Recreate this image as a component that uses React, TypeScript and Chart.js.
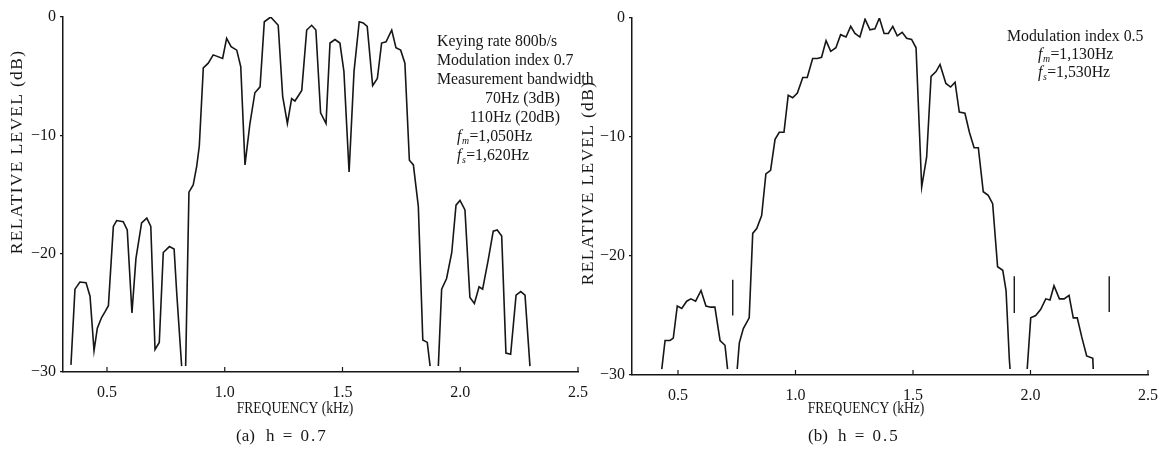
import React, { useEffect, useRef } from "react";
import { Chart, registerables } from "chart.js";

Chart.register(...registerables);

const FONT = '"Liberation Serif", "DejaVu Serif", serif';
const INK = "#161616";

// ---------- (a) h = 0.7 ----------
const freqA = [
  0.347, 0.364, 0.385, 0.411, 0.428, 0.445, 0.459, 0.477, 0.492, 0.506,
  0.527, 0.541, 0.569, 0.586, 0.606, 0.623, 0.647, 0.669, 0.686, 0.704,
  0.722, 0.739, 0.765, 0.785, 0.796, 0.817, 0.825, 0.834, 0.848, 0.866,
  0.881, 0.892, 0.909, 0.93, 0.951, 0.991, 1.008, 1.027, 1.051, 1.068,
  1.086, 1.107, 1.128, 1.15, 1.168, 1.195, 1.227, 1.246, 1.266, 1.284,
  1.298, 1.327, 1.348, 1.369, 1.387, 1.407, 1.43, 1.447, 1.468, 1.489,
  1.506, 1.528, 1.549, 1.571, 1.588, 1.605, 1.628, 1.648, 1.666, 1.685,
  1.709, 1.727, 1.747, 1.765, 1.784, 1.801, 1.822, 1.841, 1.86, 1.872,
  1.89, 1.907, 1.921, 1.942, 1.964, 1.982, 1.999, 2.02, 2.041, 2.06,
  2.08, 2.095, 2.119, 2.14, 2.157, 2.176, 2.194, 2.214, 2.237, 2.257,
  2.275, 2.296,
];
const levelA = [
  -29.4, -23.0, -22.4, -22.45, -23.6, -28.2, -26.3, -25.4, -24.9, -24.4,
  -17.7, -17.2, -17.3, -18.0, -25.0, -20.4, -17.4, -17.0, -17.7, -28.1,
  -27.5, -19.9, -19.4, -19.6, -23.3, -29.5, null, -29.5, -14.8, -14.2,
  -12.6, -10.9, -4.3, -3.9, -3.2, -3.5, -1.8, -2.5, -2.8, -4.2,
  -12.5, -9.0, -6.4, -5.9, -0.4, 0.0, -0.7, -6.7, -9.0, -6.9,
  -7.1, -6.2, -1.1, -0.7, -1.1, -8.1, -9.0, -2.2, -1.9, -2.2,
  -4.6, -13.1, -4.6, -0.4, -0.5, -0.8, -5.8, -5.2, -2.2, -2.1,
  -1.1, -2.6, -2.8, -3.9, -12.1, -12.5, -16.0, -27.3, -27.5, -29.5,
  null, -29.5, -23.0, -22.1, -19.9, -15.9, -15.5, -16.3, -23.7, -24.2,
  -22.8, -23.0, -20.5, -18.1, -18.0, -18.5, -28.4, -28.5, -23.5, -23.2,
  -23.5, -29.5,
];

// ---------- (b) h = 0.5 ----------
const freqB = [
  0.431, 0.445, 0.466, 0.48, 0.497, 0.516, 0.537, 0.555, 0.575, 0.598,
  0.619, 0.639, 0.657, 0.679, 0.7, 0.711, 0.73, 0.752, 0.761, 0.778,
  0.803, 0.818, 0.835, 0.856, 0.874, 0.894, 0.913, 0.931, 0.951, 0.969,
  0.988, 1.008, 1.031, 1.05, 1.073, 1.093, 1.111, 1.13, 1.15, 1.172,
  1.192, 1.215, 1.235, 1.253, 1.274, 1.296, 1.317, 1.338, 1.357, 1.377,
  1.395, 1.414, 1.433, 1.454, 1.473, 1.494, 1.513, 1.537, 1.558, 1.577,
  1.598, 1.615, 1.64, 1.66, 1.679, 1.697, 1.721, 1.74, 1.76, 1.778,
  1.799, 1.82, 1.839, 1.86, 1.882, 1.896, 1.91, 1.913, 1.95, 1.986,
  2.001, 2.022, 2.043, 2.065, 2.083, 2.1, 2.123, 2.143, 2.164, 2.182,
  2.199, 2.218, 2.239, 2.265, 2.267,
];
const levelB = [
  -29.5, -27.1, -27.1, -26.9, -24.2, -24.4, -23.8, -23.6, -23.8, -22.9,
  -24.2, -24.3, -24.3, -27.1, -27.5, -29.5, null, -29.5, -27.3, -26.1,
  -25.2, -18.1, -17.7, -16.6, -13.1, -12.8, -10.2, -9.6, -9.6, -6.5,
  -6.7, -6.3, -5.0, -5.0, -3.4, -3.4, -3.3, -1.9, -2.8, -2.5,
  -1.4, -1.6, -0.7, -1.3, -1.6, -0.1, -1.0, -0.9, 0.0, -1.3,
  -1.3, -0.7, -1.5, -1.2, -1.7, -1.8, -2.5, -14.2, -11.7, -4.9,
  -4.5, -3.9, -5.5, -5.8, -5.4, -7.9, -8.0, -9.6, -10.9, -10.9,
  -14.6, -14.9, -15.6, -20.9, -21.2, -22.9, -28.7, -29.5, null, -29.5,
  -25.2, -25.0, -24.5, -23.6, -23.7, -22.5, -23.6, -23.6, -23.3, -25.2,
  -25.2, -26.8, -28.4, -28.6, -29.5,
];
const markerFreqsB = [0.733, 1.931, 2.335];
const markerTopB = [-22.0, -21.7, -21.7];
const markerBottomB = [-25.0, -24.8, -24.7];

// ---------- axes ----------
const xTicks = [0.5, 1.0, 1.5, 2.0, 2.5];
const xTickLabels = ["0.5", "1.0", "1.5", "2.0", "2.5"];
const yTicks = [0, -10, -20, -30];
const yTickLabels = ["0", "\u221210", "\u221220", "\u221230"];

// ---------- texts ----------
const yTitle = "RELATIVE LEVEL (dB)";
const xTitle = "FREQUENCY (kHz)";
const captionA = ["(a)", "h = 0.7"];
const captionB = ["(b)", "h = 0.5"];
const notesA = ["Keying rate 800b/s", "Modulation index 0.7", "Measurement bandwidth"];
const bandwidthA = ["70Hz (3dB)", "110Hz (20dB)"];
const fmA = "=1,050Hz";
const fsA = "=1,620Hz";
const notesB = ["Modulation index 0.5"];
const fmB = "=1,130Hz";
const fsB = "=1,530Hz";

function pts(fx: number[], ly: (number | null)[]) {
  return fx.map((x, i) => ({ x, y: ly[i] }));
}

function markerPts(fx: number[], top: number[], bottom: number[]) {
  const out: { x: number; y: number | null }[] = [];
  fx.forEach((x, i) => {
    out.push({ x, y: top[i] }, { x, y: bottom[i] }, { x, y: null });
  });
  return out;
}

function setText(ctx: CanvasRenderingContext2D, size: number, italic = false) {
  ctx.font = `${italic ? "italic " : ""}${size}px ${FONT}`;
}

function drawFreqLine(
  ctx: CanvasRenderingContext2D,
  sub: string,
  rest: string,
  x: number,
  y: number,
  size: number
) {
  ctx.textAlign = "left";
  ctx.textBaseline = "middle";
  setText(ctx, size, true);
  ctx.fillText("f", x, y);
  let cx = x + ctx.measureText("f").width + 0.5;
  setText(ctx, size * 0.62, true);
  ctx.fillText(sub, cx, y + size * 0.25);
  cx += ctx.measureText(sub).width + 0.5;
  setText(ctx, size);
  ctx.fillText(rest, cx, y);
}

function drawYTitle(ctx: CanvasRenderingContext2D, cx: number, cy: number) {
  ctx.save();
  ctx.translate(cx, cy);
  ctx.rotate(-Math.PI / 2);
  setText(ctx, 17.5);
  (ctx as any).letterSpacing = "1.3px";
  ctx.textAlign = "center";
  ctx.textBaseline = "middle";
  ctx.fillText(yTitle, 0, 0);
  ctx.restore();
}

function drawXTitle(ctx: CanvasRenderingContext2D, cx: number, cy: number) {
  ctx.save();
  ctx.translate(cx, cy);
  ctx.scale(0.8, 1);
  setText(ctx, 17);
  ctx.textAlign = "center";
  ctx.textBaseline = "middle";
  ctx.fillText(xTitle, 0, 0);
  ctx.restore();
}

function drawCaption(ctx: CanvasRenderingContext2D, parts: string[], x: number, x2: number, y: number) {
  ctx.save();
  setText(ctx, 17);
  ctx.textAlign = "left";
  ctx.textBaseline = "middle";
  ctx.fillText(parts[0], x, y);
  (ctx as any).letterSpacing = "2px";
  ctx.fillText(parts[1], x2, y);
  ctx.restore();
}

interface PanelCfg {
  left: number;
  width: number;
  height: number;
  plotLeft: number;
  plotRight: number;
  plotTop: number;
  plotBottom: number;
  xMin: number;
  xMax: number;
  datasets: any[];
  draw: (ctx: CanvasRenderingContext2D) => void;
}

const panelA: PanelCfg = {
  left: 0,
  width: 600,
  height: 454,
  plotLeft: 63,
  plotRight: 578,
  plotTop: 17,
  plotBottom: 372,
  xMin: 0.3132,
  xMax: 2.5,
  datasets: [
    { data: pts(freqA, levelA), borderColor: INK, borderWidth: 1.6, pointRadius: 0, spanGaps: false, tension: 0 },
  ],
  draw: (ctx) => {
    ctx.fillStyle = INK;
    drawYTitle(ctx, 17, 152);
    drawXTitle(ctx, 295, 409);
    drawCaption(ctx, captionA, 236, 266, 437);
    setText(ctx, 15.8);
    ctx.textAlign = "left";
    ctx.textBaseline = "middle";
    notesA.forEach((t, i) => ctx.fillText(t, 437, 42 + i * 19));
    ctx.textAlign = "right";
    bandwidthA.forEach((t, i) => ctx.fillText(t, 560, 99 + i * 19));
    drawFreqLine(ctx, "m", fmA, 457, 137, 15.8);
    drawFreqLine(ctx, "s", fsA, 457, 156, 15.8);
  },
};

const panelB: PanelCfg = {
  left: 575,
  width: 600,
  height: 454,
  plotLeft: 57,
  plotRight: 573,
  plotTop: 18,
  plotBottom: 375,
  xMin: 0.3043,
  xMax: 2.5,
  datasets: [
    { data: pts(freqB, levelB), borderColor: INK, borderWidth: 1.6, pointRadius: 0, spanGaps: false, tension: 0 },
    { data: markerPts(markerFreqsB, markerTopB, markerBottomB), borderColor: INK, borderWidth: 1.4, pointRadius: 0, spanGaps: false },
  ],
  draw: (ctx) => {
    ctx.fillStyle = INK;
    drawYTitle(ctx, 13, 183);
    drawXTitle(ctx, 291, 409);
    drawCaption(ctx, captionB, 233, 263, 437);
    setText(ctx, 15.8);
    ctx.textAlign = "left";
    ctx.textBaseline = "middle";
    notesB.forEach((t, i) => ctx.fillText(t, 432, 37 + i * 18));
    drawFreqLine(ctx, "m", fmB, 463, 55, 15.8);
    drawFreqLine(ctx, "s", fsB, 463, 73, 15.8);
  },
};

function Panel({ cfg }: { cfg: PanelCfg }) {
  const ref = useRef<HTMLCanvasElement | null>(null);
  useEffect(() => {
    const canvas = ref.current;
    if (!canvas) return;
    const textPlugin = {
      id: "panelText",
      afterDraw(chart: any) {
        const ctx = chart.ctx as CanvasRenderingContext2D;
        ctx.save();
        cfg.draw(ctx);
        ctx.restore();
      },
    };
    const inwardTicks = {
      id: "inwardTicks",
      afterDatasetsDraw(chart: any) {
        const ctx = chart.ctx as CanvasRenderingContext2D;
        const area = chart.chartArea;
        ctx.save();
        ctx.strokeStyle = INK;
        ctx.lineWidth = 1.2;
        xTicks.forEach((v) => {
          const px = chart.scales.x.getPixelForValue(v);
          ctx.beginPath();
          ctx.moveTo(px, area.bottom);
          ctx.lineTo(px, area.bottom - 5);
          ctx.stroke();
        });
        ctx.restore();
      },
    };
    const chart = new Chart(canvas, {
      type: "line",
      data: { datasets: cfg.datasets },
      options: {
        animation: false,
        responsive: false,
        devicePixelRatio: 1,
        layout: {
          padding: { left: 0, top: cfg.plotTop, right: cfg.width - cfg.plotRight, bottom: 0 },
        },
        plugins: { legend: { display: false }, tooltip: { enabled: false }, title: { display: false } },
        scales: {
          x: {
            type: "linear",
            min: cfg.xMin,
            max: cfg.xMax,
            grid: { display: false },
            border: { display: true, color: INK, width: 1.5 },
            afterBuildTicks: (s: any) => {
              s.ticks = xTicks.map((v) => ({ value: v }));
            },
            afterFit: (s: any) => {
              s.height = cfg.height - cfg.plotBottom;
            },
            ticks: {
              autoSkip: false,
              maxRotation: 0,
              padding: 3,
              color: INK,
              font: { family: FONT, size: 16 },
              callback: (v: any) => {
                const i = xTicks.indexOf(Number(v));
                return i >= 0 ? xTickLabels[i] : "";
              },
            },
          },
          y: {
            type: "linear",
            min: -30,
            max: 0,
            grid: { display: true, drawOnChartArea: false, drawTicks: true, tickLength: 3, color: INK, lineWidth: 1.2 },
            border: { display: true, color: INK, width: 1.5 },
            afterBuildTicks: (s: any) => {
              s.ticks = yTicks.map((v) => ({ value: v }));
            },
            afterFit: (s: any) => {
              s.width = cfg.plotLeft;
            },
            ticks: {
              autoSkip: false,
              padding: 4,
              color: INK,
              font: { family: FONT, size: 16 },
              callback: (v: any) => {
                const i = yTicks.indexOf(Number(v));
                return i >= 0 ? yTickLabels[i] : "";
              },
            },
          },
        },
      },
      plugins: [inwardTicks, textPlugin],
    } as any);
    return () => chart.destroy();
  }, [cfg]);
  return (
    <canvas
      ref={ref}
      width={cfg.width}
      height={cfg.height}
      style={{ position: "absolute", left: cfg.left, top: 0, width: cfg.width, height: cfg.height }}
    />
  );
}

export default function App() {
  return (
    <div
      style={{
        position: "fixed",
        left: 0,
        top: 0,
        width: 1175,
        height: 454,
        background: "#ffffff",
        overflow: "hidden",
      }}
    >
      <Panel cfg={panelA} />
      <Panel cfg={panelB} />
    </div>
  );
}
